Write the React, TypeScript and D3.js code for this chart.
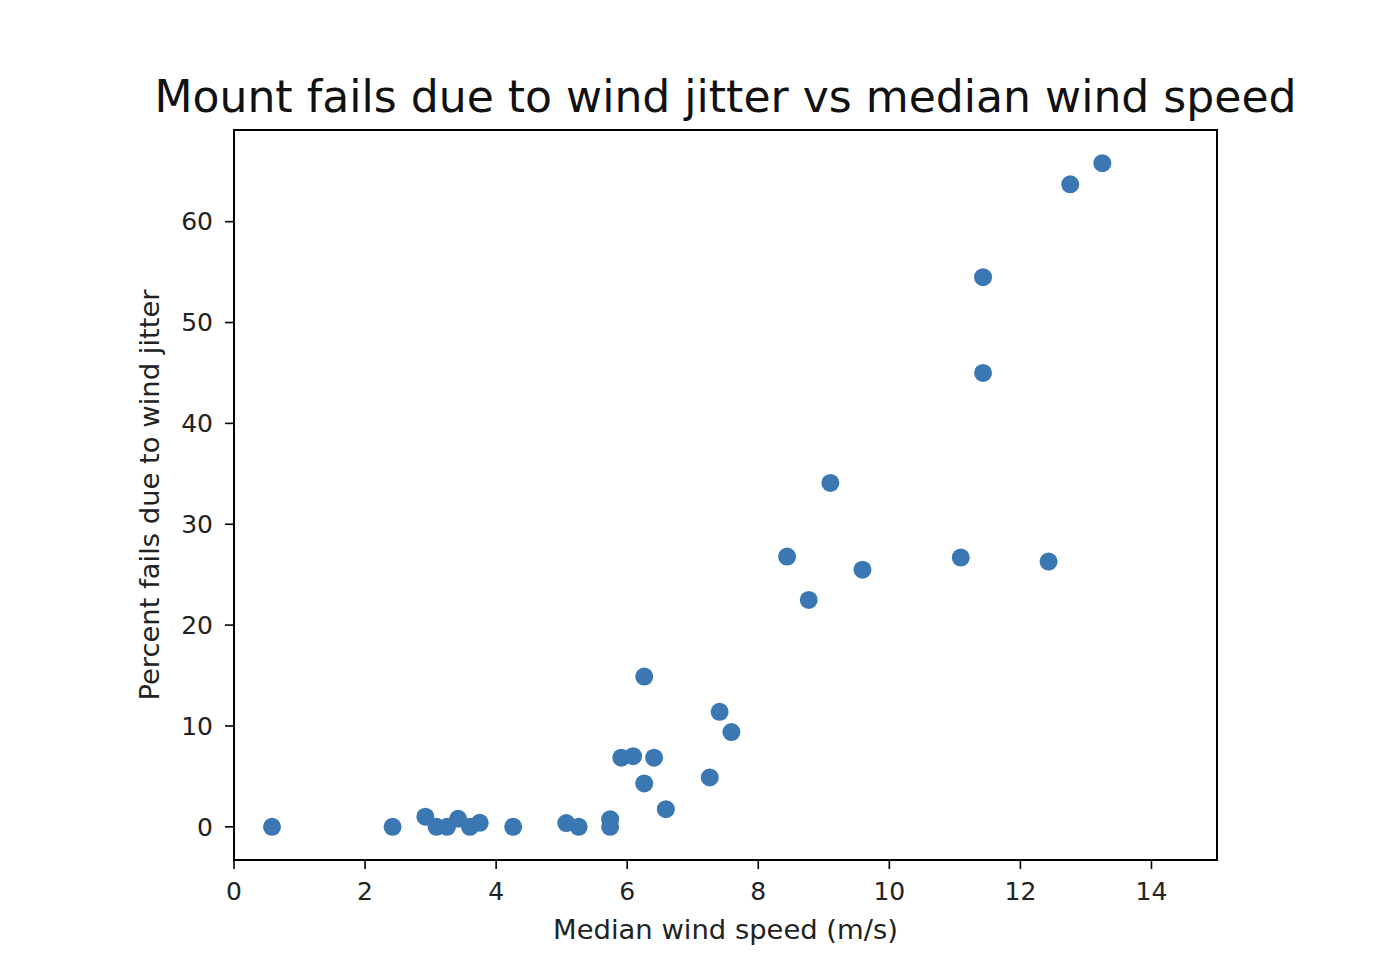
import { scaleLinear } from 'd3'

const windSpeed = [
  0.58, 2.42, 2.92, 3.09, 3.25, 3.42, 3.6, 3.75, 4.26,
  5.07, 5.26, 5.74, 5.74, 5.91, 6.09, 6.41, 6.26, 6.59, 6.26,
  7.26, 7.41, 7.59, 8.44, 8.77, 9.1, 9.59, 11.09, 12.43,
  11.43, 11.43, 12.76, 13.25
]
const failPct = [
  0, 0, 1.0, 0, 0, 0.8, 0, 0.4, 0,
  0.37, 0, 0.76, 0, 6.86, 7.0, 6.86, 4.3, 1.75, 14.9,
  4.9, 11.4, 9.4, 26.8, 22.5, 34.1, 25.5, 26.7, 26.3,
  54.5, 45.0, 63.7, 65.8
]
const xTicks = [0, 2, 4, 6, 8, 10, 12, 14]
const yTicks = [0, 10, 20, 30, 40, 50, 60]

const width = 1386,
      height = 974,
      margin = { top: 130, right: 169, bottom: 114, left: 234 },
      innerWidth = width - margin.left - margin.right,
      innerHeight = height - margin.top - margin.bottom,
      font = '"DejaVu Sans", sans-serif',
      dotColor = '#3a77b3'

const yMin = Math.min(...failPct), yMax = Math.max(...failPct)
const yPad = (yMax - yMin) * 0.05

const xScale = scaleLinear().domain([0, 15]).range([0, innerWidth])
const yScale = scaleLinear().domain([yMin - yPad, yMax + yPad]).range([innerHeight, 0])

const AxisBottom = () => (
  <g transform={`translate(0, ${innerHeight})`}>
    {xTicks.map(t => (
      <g key={t} transform={`translate(${xScale(t)}, 0)`}>
        <line y2={9} stroke='black' strokeWidth={1.6} />
        <text y={19} dy='0.85em' textAnchor='middle' fontSize={25} fill='#222'>{t}</text>
      </g>
    ))}
  </g>
)

const AxisLeft = () => (
  <g>
    {yTicks.map(t => (
      <g key={t} transform={`translate(0, ${yScale(t)})`}>
        <line x2={-9} stroke='black' strokeWidth={1.6} />
        <text x={-21} dy='0.35em' textAnchor='end' fontSize={25} fill='#222'>{t}</text>
      </g>
    ))}
  </g>
)

export default function App() {
  return (
    <svg width={width} height={height}
      style={{ position: 'absolute', left: 0, top: 0, background: 'white', fontFamily: font }}>
      <text x={margin.left + innerWidth / 2} y={112} textAnchor='middle' fontSize={44.1} fill='#111'>
        Mount fails due to wind jitter vs median wind speed
      </text>
      <g transform={`translate(${margin.left}, ${margin.top})`}>
        <AxisBottom />
        <AxisLeft />
        <g className='dots'>
          {windSpeed.map((x, i) => (
            <circle key={i} cx={xScale(x)} cy={yScale(failPct[i])} r={9} fill={dotColor} />
          ))}
        </g>
        <rect width={innerWidth} height={innerHeight} fill='none' stroke='black' strokeWidth={2} />
        <text x={innerWidth / 2} y={innerHeight + 79} textAnchor='middle' fontSize={27.4} fill='#222'>
          Median wind speed (m/s)
        </text>
        <text transform={`translate(-75, ${innerHeight / 2}) rotate(-90)`} textAnchor='middle'
          fontSize={27.4} fill='#222'>
          Percent fails due to wind jitter
        </text>
      </g>
    </svg>
  )
}
